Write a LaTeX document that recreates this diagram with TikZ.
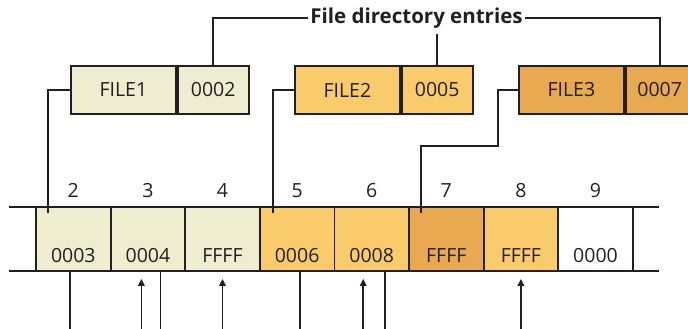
\documentclass[tikz,border=0pt]{standalone}
\usepackage{fontspec}
\setmainfont{Open Sans}
\usepackage{xcolor}
\usetikzlibrary{positioning,arrows.meta,calc}
\definecolor{creamcol} {RGB}{239,237,208}
\definecolor{yellowcol}{RGB}{250,203,107}
\definecolor{orangecol}{RGB}{232,169,80}
\definecolor{inkcol}   {RGB}{35,31,32}
\begin{document}
\begin{tikzpicture}[
  x=1pt, y=-1pt,
  line width=1.8pt, draw=inkcol,
  txt/.style  ={font=\fontsize{19.5}{22}\selectfont,text=inkcol},
  fentry/.style={rectangle,draw=inkcol,fill=#1,minimum height=48pt,
                 inner sep=0pt,anchor=west,txt},
  cell/.style ={rectangle,draw=inkcol,fill=#1,minimum width=74.6pt,
                minimum height=64pt,inner sep=0pt},
  cval/.style ={txt,anchor=base,inner sep=0pt},
  cnum/.style ={txt,anchor=base,inner sep=0pt},
  conn/.style ={inkcol,line width=1.8pt},
  link/.style ={conn,-{Triangle[width=6.5pt,length=7pt]}},
]
\useasboundingbox (0,0) rectangle (688,329);
% disk table rails
\coordinate (railL) at (9,207);
\coordinate (railR) at (659,207);
\draw[conn] (railL) -- (railR);
\draw[conn] ([yshift=-64pt]railL) -- ([yshift=-64pt]railR);
% cells
\foreach \i/\col/\val in {2/creamcol/0003,3/creamcol/0004,4/creamcol/FFFF,
                           5/yellowcol/0006,6/yellowcol/0008,7/orangecol/FFFF,
                           8/yellowcol/FFFF,9/white/0000}{
  \node[cell=\col] (c\i) at ({36+37.3+(\i-2)*74.6},239) {};
  \node[cval] (v\i) at ([yshift=9.5pt]c\i.south) {\val};
  \node[cnum] (n\i) at ([yshift=9pt]c\i.north) {\i};
}
% directory entries
\node[fentry=creamcol, minimum width=105pt] (f1n) at (70,90)  {FILE1};
\node[fentry=creamcol, minimum width=71pt]  (f1p) at (f1n.east) {0002};
\node[fentry=yellowcol,minimum width=105pt] (f2n) at (294,90) {FILE2};
\node[fentry=yellowcol,minimum width=71pt]  (f2p) at (f2n.east) {0005};
\node[fentry=orangecol,minimum width=105pt] (f3n) at (518,90) {FILE3};
\node[fentry=orangecol,minimum width=68pt]  (f3p) at (f3n.east) {0007};
\node[txt,font=\fontsize{20.5}{24}\bfseries,inner sep=1pt] (title) at (416.5,18) {File directory entries};
\draw[conn] (f1p.north) |- (title.west);
\draw[conn] (title.east) -| (f3p.north);
\draw[conn] (f2p.north) -- (f2p.north |- 0,34);
% first clusters
\draw[conn] (f1n.west) -| ([xshift=13pt,yshift=-7pt]c2.north west);
\draw[conn] (f2n.west) -| ([xshift=14pt,yshift=-7pt]c5.north west);
\coordinate (bend3) at (498,146);
\draw[conn] (f3n.west) -| (bend3) -| ([xshift=13pt,yshift=-7pt]c7.north west);
% chain links below the table
\draw[conn] ([xshift=-3pt]c2.south) -- ([xshift=-3pt]c2.south |- 0,329);
\draw[link] ([xshift=-6.5pt]c3.south |- 0,329) -- ([xshift=-6.5pt,yshift=-7pt]c3.south);
\draw[conn] ([xshift=12.5pt]c3.south) -- ([xshift=12.5pt]c3.south |- 0,329);
\draw[link] (c4.south |- 0,329) -- ([yshift=-7pt]c4.south);
\draw[conn] ([xshift=3pt]c5.south) -- ([xshift=3pt]c5.south |- 0,329);
\draw[link] ([xshift=-8.5pt]c6.south |- 0,329) -- ([xshift=-8.5pt,yshift=-7pt]c6.south);
\draw[conn] ([xshift=13.5pt]c6.south) -- ([xshift=13.5pt]c6.south |- 0,329);
\draw[link] (c8.south |- 0,329) -- ([yshift=-7pt]c8.south);
\end{tikzpicture}
\end{document}
